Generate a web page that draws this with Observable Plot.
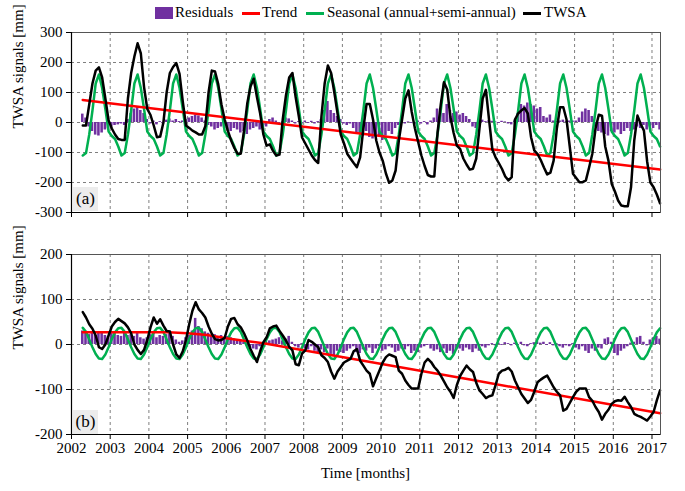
<!DOCTYPE html>
<html>
<head>
<meta charset="utf-8">
<script src="https://cdn.jsdelivr.net/npm/d3@7"></script>
<script src="https://cdn.jsdelivr.net/npm/@observablehq/plot@0.6"></script>
<style>
  html, body { margin: 0; padding: 0; background: #fff; }
  body { font-family: "Liberation Serif", "DejaVu Serif", "Times New Roman", serif; color: #000; }
  #wrap { position: relative; width: 685px; height: 491px; overflow: hidden; }
  .abs { position: absolute; }
  .leg-text { position: absolute; top: 4px; font-size: 15px; line-height: 17px; white-space: nowrap; }
  .leg-line { position: absolute; top: 12px; height: 3px; width: 18px; }
  .tag { position: absolute; width: 25px; height: 24px; background: #ececec; font-size: 17px; line-height: 24px; text-align: center; }
  #xl { position: absolute; top: 465px; left: 0; width: 731px; text-align: center; font-size: 15px; }
</style>
</head>
<body>
<div id="wrap">
  <div class="abs" style="left:155px;top:7px;width:18px;height:12px;background:#7030a0"></div>
  <div class="leg-text" style="left:175px">Residuals</div>
  <div class="leg-line" style="left:242px;background:#ff0000"></div>
  <div class="leg-text" style="left:262px">Trend</div>
  <div class="leg-line" style="left:306px;background:#00b050"></div>
  <div class="leg-text" style="left:327px">Seasonal (annual+semi-annual)</div>
  <div class="leg-line" style="left:523px;background:#000"></div>
  <div class="leg-text" style="left:544px">TWSA</div>
  <div id="pa" class="abs" style="left:0;top:22px"></div>
  <div id="pb" class="abs" style="left:0;top:244px"></div>
  <div class="tag" style="left:73px;top:187px">(a)</div>
  <div class="tag" style="left:73px;top:410px">(b)</div>
  <div id="xl">Time [months]</div>
</div>
<script>
// ---- x axis years ----
const years = [2002, 2003, 2004, 2005, 2006, 2007, 2008, 2009, 2010, 2011, 2012, 2013, 2014, 2015, 2016, 2017];
const xDomain = [2002, 2017.22];

// ---- Panel (a): monthly values Apr 2002 .. Mar 2017 (mm) ----
const twsaA = [
  -10, -10, 60, 130, 173, 184, 150, 80, 7,
  -20, -40, -55, -58, -58, 80, 165, 220, 264, 230, 118, 45,
  25, -10, -49, -47, 0, 100, 165, 185, 198, 162, 70, -10,
  -18, -27, -33, -40, -40, -12, 100, 173, 170, 128, 60, 10,
  -28, -60, -85, -104, -104, -27, 63, 120, 146, 85, 30, -40,
  -77, -73, -95, -110, -107, 10, 90, 150, 165, 85, 20, -50,
  -70, -90, -110, -125, -135, 20, 130, 190, 165, 100, 30, -40,
  -70, -104, -120, -135, -149, -116, -20, 62, 62, 10, -60, -100,
  -127, -170, -201, -193, -160, -60, 10, 80, 107, 35, -20, -65,
  -110, -145, -175, -180, -180, -35, 60, 134, 110, 18, -35, -77,
  -88, -120, -140, -157, -154, -120, -20, 80, 109, 7, -90, -116,
  -135, -155, -180, -193, -182, 10, 30, 40, 48, 30, -49, -93,
  -105, -125, -150, -173, -167, -127, -20, 51, 51, 10, -80, -171,
  -185, -199, -199, -193, -150, -104, -20, 26, 23, -80, -127, -204,
  -230, -260, -277, -279, -279, -216, -60, 23, -5, -27, -130, -200,
  -216, -240, -269
];
const seasA = [
  -110, -102, -40, 40, 130, 160, 115, 45, -30,
  -45, -55, -80, -110, -102, -40, 40, 130, 160, 115, 45, -30,
  -45, -55, -80, -110, -102, -40, 40, 130, 160, 115, 45, -30,
  -45, -55, -80, -110, -102, -40, 40, 130, 160, 115, 45, -30,
  -45, -55, -80, -110, -102, -40, 40, 130, 160, 115, 45, -30,
  -45, -55, -80, -110, -102, -40, 40, 130, 160, 115, 45, -30,
  -45, -55, -80, -110, -102, -40, 40, 130, 160, 115, 45, -30,
  -45, -55, -80, -110, -102, -40, 40, 130, 160, 115, 45, -30,
  -45, -55, -80, -110, -102, -40, 40, 130, 160, 115, 45, -30,
  -45, -55, -80, -110, -102, -40, 40, 130, 160, 115, 45, -30,
  -45, -55, -80, -110, -102, -40, 40, 130, 160, 115, 45, -30,
  -45, -55, -80, -110, -102, -40, 40, 130, 160, 115, 45, -30,
  -45, -55, -80, -110, -102, -40, 40, 130, 160, 115, 45, -30,
  -45, -55, -80, -110, -102, -40, 40, 130, 160, 115, 45, -30,
  -45, -55, -80, -110, -102, -40, 40, 130, 160, 115, 45, -30,
  -45, -55, -80
];
const residA = [
  28, 15, -15, -30, -42, -45, -35, -25, -20,
  -15, -10, -8, -5, -10, 10, 30, 45, 50, 40, 30, 10,
  -5, 5, -8, 3, -5, 8, 12, 5, 10, 3, 5, 10,
  15, 20, 25, 22, 15, 5, -10, -15, -25, -20, -15, -20,
  -25, -30, -20, -25, -35, -30, -40, -25, -20, -15, -25, -20,
  -15, 10, 15, 5, -3, 2, 15, 12, 5, -5, 3, -5,
  5, -3, 4, -5, 3, 10, 40, 70, 40, 30, 20, 10,
  -5, -10, -5, -20, -40, -35, -45, -30, -50, -55, -40, -45,
  -60, -45, -30, -40, -20, -10, 3, -5, 2, -3, -8, 5,
  -5, 3, -8, 5, 15, 45, 35, 30, 60, 40, 30, 35,
  25, 30, 20, 10, -15, -20, 5, 8, 3, 6, 4, 2,
  -3, 4, 2, -5, -8, 5, 30, 60, 55, 65, 60, 55,
  45, 50, 20, 15, 25, 5, 3, 5, 8, 3, 5, 5,
  5, 15, 35, 45, 40, 20, -15, -30, -35, -40, -45, -30,
  -35, -25, -40, -30, -20, -30, -25, -15, -20, -10, -25, -15,
  -20, -10, -25
];
const trendAT = [2002.29, 2017.21];
const trendAV = [75, -157];

// ---- Panel (b): monthly values Apr 2002 .. Mar 2017 (mm) ----
const twsaB = [
  72, 60, 45, 35, 20, -6, -10, 0, 20,
  40, 50, 57, 52, 47, 38, 25, 0, -12, -21, -12, 10,
  38, 60, 46, 56, 42, 30, 29, 0, -22, -30, -15, 10,
  45, 75, 94, 78, 70, 60, 40, 24, 12, 9, 10, 15,
  40, 57, 59, 45, 38, 25, 9, -10, -25, -39, -15, 5,
  16, 36, 40, 42, 30, 20, 9, -5, -13, -44, -46, -20,
  -13, 10, 6, 0, -6, -24, -30, -39, -60, -76, -60, -50,
  -40, -36, -32, -15, -10, -36, -47, -58, -65, -93, -75, -58,
  -40, -28, -22, -25, -28, -58, -65, -80, -90, -98, -98, -98,
  -65, -40, -32, -39, -50, -58, -69, -82, -95, -105, -119, -90,
  -70, -58, -47, -55, -61, -85, -102, -110, -119, -115, -113, -90,
  -65, -58, -56, -52, -60, -80, -95, -110, -120, -130, -123, -105,
  -84, -78, -73, -69, -82, -95, -105, -113, -147, -143, -130, -117,
  -105, -98, -98, -98, -117, -125, -139, -150, -167, -154, -145, -132,
  -126, -124, -125, -116, -128, -139, -154, -158, -161, -165, -169, -160,
  -150, -124, -102
];
const seasB = [
  37, 28, 11, -6, -21, -31, -32, -22, -6,
  12, 27, 36, 37, 28, 11, -6, -21, -31, -32, -22, -6,
  12, 27, 36, 37, 28, 11, -6, -21, -31, -32, -22, -6,
  12, 27, 36, 37, 28, 11, -6, -21, -31, -32, -22, -6,
  12, 27, 36, 37, 28, 11, -6, -21, -31, -32, -22, -6,
  12, 27, 36, 37, 28, 11, -6, -21, -31, -32, -22, -6,
  12, 27, 36, 37, 28, 11, -6, -21, -31, -32, -22, -6,
  12, 27, 36, 37, 28, 11, -6, -21, -31, -32, -22, -6,
  12, 27, 36, 37, 28, 11, -6, -21, -31, -32, -22, -6,
  12, 27, 36, 37, 28, 11, -6, -21, -31, -32, -22, -6,
  12, 27, 36, 37, 28, 11, -6, -21, -31, -32, -22, -6,
  12, 27, 36, 37, 28, 11, -6, -21, -31, -32, -22, -6,
  12, 27, 36, 37, 28, 11, -6, -21, -31, -32, -22, -6,
  12, 27, 36, 37, 28, 11, -6, -21, -31, -32, -22, -6,
  12, 27, 36, 37, 28, 11, -6, -21, -31, -32, -22, -6,
  12, 27, 36
];
const residB = [
  30, 25, 22, 28, 20, 25, 27, 20, 18,
  25, 22, 20, 18, 25, 20, 22, 18, 25, 15, 12, 15,
  22, 28, 15, 20, 18, 22, 30, 18, 10, 5, 8, 15,
  20, 30, 58, 40, 35, 28, 25, 20, 22, 18, 20, 15,
  18, 15, 12, 10, 8, 5, -3, -8, -10, -12, -5, 3,
  5, 8, 10, 12, 15, 8, 12, 18, 5, -5, -8, 2,
  -10, -12, -5, -15, -20, -12, -18, -10, -22, -25, -15, -18,
  -20, -15, -10, -5, -18, -20, -12, -15, -8, -20, -10, -5,
  -15, -12, -5, -8, -18, -15, -10, -12, -5, -20, -15, -18,
  -8, -5, -2, -10, -15, -12, -18, -10, -20, -15, -22, -12,
  -10, -15, -8, -12, -18, -10, -15, -5, -8, -3, 2, -3,
  3, -2, 4, 2, -3, 3, -2, 5, -3, -5, 2, 4,
  6, 3, 5, -2, 4, -3, 2, -5, -8, -3, -5, 2,
  -8, -12, -5, -15, -20, -10, -15, -8, -10, 12, 15, 5,
  -20, -25, -15, -10, -5, 3, 5, 15, 18, 5, -3, 10,
  15, 18, 12
];
const trendBT = [2002.29, 2004.5, 2005.0, 2005.5, 2006.0, 2006.5, 2007.0, 2012.3, 2017.21];
const trendBV = [27, 27, 25, 21, 14, 8, 2, -78, -153];

// ---- helpers ----
const FONT = '"Liberation Serif", "DejaVu Serif", "Times New Roman", serif';
const months = d3.range(twsaA.length).map(i => 2002 + (i + 3.5) / 12);
const series = vals => vals.map((v, i) => ({t: months[i], v}));
const pairs = (ts, vs) => ts.map((t, i) => ({t, v: vs[i]}));

function panel({height, marginBottom, yDomain, yTicks, twsa, seas, resid, trendT, trendV, xLabels, labelShift}) {
  const gridYs = yTicks.filter(d => d !== yDomain[0] && d !== yDomain[1]);
  return Plot.plot({
    width: 685,
    height,
    marginLeft: 71,
    marginRight: 25,
    marginTop: 10,
    marginBottom,
    x: {domain: xDomain},
    y: {domain: yDomain},
    style: {fontFamily: FONT, fontSize: "15px", color: "#000", background: "#fff", overflow: "visible"},
    marks: [
      Plot.gridX(years.slice(1), {stroke: "#7f7f7f", strokeOpacity: 1, strokeDasharray: "3,3", strokeWidth: 1}),
      Plot.gridY(gridYs, {stroke: "#7f7f7f", strokeOpacity: 1, strokeDasharray: "3,3", strokeWidth: 1}),
      Plot.rectY(series(resid), {x1: d => d.t - 0.033, x2: d => d.t + 0.033, y1: 0, y2: "v", fill: "#7030a0"}),
      Plot.line(series(seas), {x: "t", y: "v", stroke: "#00b050", strokeWidth: 2.5}),
      Plot.line(pairs(trendT, trendV), {x: "t", y: "v", stroke: "#ff0000", strokeWidth: 2.5}),
      Plot.line(series(twsa), {x: "t", y: "v", stroke: "#000", strokeWidth: 2.5}),
      Plot.frame({stroke: "#555", strokeWidth: 1}),
      Plot.ruleX([xDomain[0]], {stroke: "#000", strokeWidth: 1.2}),
      Plot.ruleY([yDomain[0]], {stroke: "#000", strokeWidth: 1.2}),
      Plot.axisY(yTicks, {tickFormat: d => String(d), tickSize: 5, tickPadding: 4, fontSize: 15, fontFamily: FONT, label: null, stroke: "#000"}),
      Plot.axisX(years, {tickFormat: xLabels ? (d => String(d)) : (() => ""), tickSize: 5, tickPadding: 3, fontSize: 15, fontFamily: FONT, label: null, stroke: "#000"}),
      Plot.text(["TWSA signals [mm]"], {frameAnchor: "left", dx: -53, dy: labelShift, rotate: -90, fontSize: 15, fontFamily: FONT, fill: "#000"})
    ]
  });
}

document.getElementById("pa").append(panel({
  height: 222, marginBottom: 32,
  yDomain: [-300, 300], yTicks: [-300, -200, -100, 0, 100, 200, 300],
  twsa: twsaA, seas: seasA, resid: residA, trendT: trendAT, trendV: trendAV, xLabels: false, labelShift: 6
}));
document.getElementById("pb").append(panel({
  height: 216, marginBottom: 26,
  yDomain: [-200, 200], yTicks: [-200, -100, 0, 100, 200],
  twsa: twsaB, seas: seasB, resid: residB, trendT: trendBT, trendV: trendBV, xLabels: true, labelShift: 5
}));
</script>
</body>
</html>
